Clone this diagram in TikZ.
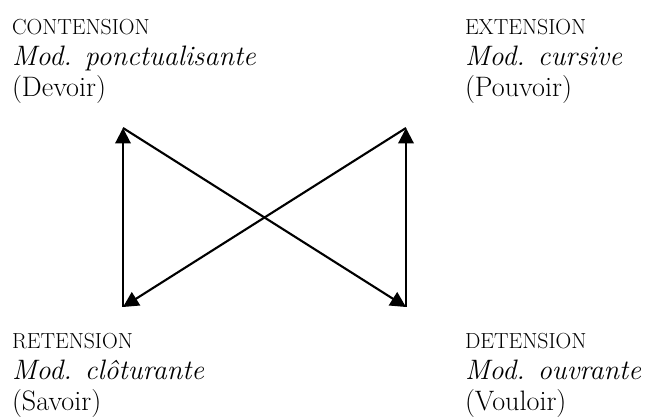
\documentclass[tikz,border=0pt]{standalone}
\usepackage{tikz}
\usetikzlibrary{arrows.meta, positioning}

\newcommand{\tensionname}[1]{{\fontsize{15.5}{22}\selectfont #1}}

\begin{document}
\begin{tikzpicture}[
    x=0.025cm, y=-0.025cm,
    cornerlabel/.style={inner sep=0pt, outer sep=0pt, anchor=north west, align=left, font=\fontsize{20}{22}\selectfont},
    arrow/.style={-{Triangle[length=11pt, width=11pt]}, line width=1.5pt},
  ]

  \useasboundingbox (0,0) rectangle (659,418);

  % texts at the four corners
  \node[cornerlabel] (contension) at (12,19) {\tensionname{CONTENSION}\\ \textit{Mod. ponctualisante}\\ (Devoir)};
  \node[cornerlabel] (extension) at (465,19) {\tensionname{EXTENSION}\\ \textit{Mod. cursive}\\ (Pouvoir)};
  \node[cornerlabel] (retension) at (12,333) {\tensionname{RETENSION}\\ \textit{Mod. clôturante}\\ (Savoir)};
  \node[cornerlabel] (detension) at (465,333) {\tensionname{DETENSION}\\ \textit{Mod. ouvrante}\\ (Vouloir)};

  % corners of the arrows
  \coordinate (top_l) at (123,128);
  \coordinate (top_r) at (406,128);
  \coordinate (bot_l) at (123,307);
  \coordinate (bot_r) at (406,307);

  \draw[arrow] (bot_l) -- (top_l);
  \draw[arrow] (top_l) -- (bot_r);
  \draw[arrow] (bot_r) -- (top_r);
  \draw[arrow] (top_r) -- (bot_l);

\end{tikzpicture}
\end{document}
